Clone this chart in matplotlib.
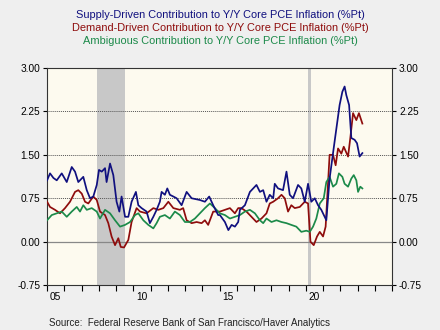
import matplotlib.pyplot as plt

# decimal years / %pt
supply_t = [2005.0, 2005.17, 2005.37, 2005.56, 2005.85, 2006.14, 2006.43, 2006.62, 2006.81, 2007.10,
            2007.30, 2007.49, 2007.68, 2007.88, 2008.01, 2008.17, 2008.36, 2008.45, 2008.65, 2008.84,
            2009.03, 2009.19, 2009.32, 2009.52, 2009.71, 2009.90, 2010.15, 2010.29, 2010.48, 2010.77,
            2010.96, 2011.16, 2011.35, 2011.54, 2011.64, 2011.83, 2011.97, 2012.12, 2012.32, 2012.51,
            2012.80, 2013.09, 2013.38, 2013.86, 2014.15, 2014.40, 2014.63, 2014.92,
            2015.02, 2015.31, 2015.51, 2015.70, 2015.89, 2016.08, 2016.18, 2016.47, 2016.76, 2016.95,
            2017.14, 2017.34, 2017.53, 2017.72, 2017.91, 2018.11, 2018.20, 2018.39, 2018.68, 2018.88,
            2019.07, 2019.26, 2019.55, 2019.74, 2019.94, 2020.13, 2020.32, 2020.52, 2020.71, 2020.90,
            2021.19, 2021.38, 2021.67, 2021.96, 2022.12, 2022.25, 2022.35, 2022.51, 2022.64, 2022.83,
            2022.97, 2023.12, 2023.28]
supply_v = [1.06, 1.18, 1.10, 1.06, 1.18, 1.03, 1.29, 1.21, 1.03, 1.12,
            0.89, 0.75, 0.78, 0.98, 1.24, 1.21, 1.27, 1.03, 1.35, 1.15,
            0.69, 0.52, 0.78, 0.43, 0.43, 0.69, 0.86, 0.63, 0.58, 0.52,
            0.32, 0.43, 0.55, 0.69, 0.86, 0.81, 0.92, 0.81, 0.78, 0.75,
            0.63, 0.86, 0.75, 0.72, 0.69, 0.78, 0.63, 0.46,
            0.46, 0.34, 0.20, 0.29, 0.26, 0.34, 0.55, 0.63, 0.86, 0.92,
            0.98, 0.86, 0.89, 0.69, 0.81, 0.75, 1.00, 0.92, 0.89, 1.21,
            0.81, 0.75, 0.98, 0.92, 0.69, 1.00, 0.69, 0.75, 0.63, 0.55,
            0.37, 1.09, 1.73, 2.36, 2.59, 2.68, 2.53, 2.36, 1.79, 1.76,
            1.70, 1.47, 1.53]

demand_t = [2005.0, 2005.17, 2005.46, 2005.75, 2006.04, 2006.33, 2006.62, 2006.81, 2007.01, 2007.20,
            2007.39, 2007.68, 2007.88, 2008.07, 2008.36, 2008.55, 2008.74, 2008.94, 2009.13, 2009.27,
            2009.46, 2009.71, 2009.90, 2010.19, 2010.39, 2010.77, 2011.16, 2011.45, 2011.74, 2012.03,
            2012.32, 2012.70, 2012.89, 2013.09, 2013.38, 2013.67, 2013.96, 2014.15, 2014.34, 2014.63,
            2014.92, 2015.02, 2015.31, 2015.60, 2015.89, 2016.08, 2016.27, 2016.56, 2016.85, 2017.14,
            2017.43, 2017.72, 2017.91, 2018.11, 2018.39, 2018.59, 2018.78, 2018.97, 2019.16, 2019.36,
            2019.65, 2019.94, 2020.13, 2020.27, 2020.46, 2020.65, 2020.81, 2021.00, 2021.15, 2021.38,
            2021.58, 2021.73, 2021.87, 2022.06, 2022.20, 2022.45, 2022.58, 2022.74, 2022.93, 2023.08,
            2023.28]
demand_v = [0.69, 0.60, 0.55, 0.49, 0.58, 0.69, 0.86, 0.89, 0.83, 0.69,
            0.66, 0.78, 0.72, 0.52, 0.46, 0.32, 0.09, -0.06, 0.06, -0.09,
            -0.10, 0.03, 0.34, 0.58, 0.52, 0.49, 0.58, 0.55, 0.58, 0.69,
            0.58, 0.55, 0.58, 0.37, 0.32, 0.34, 0.32, 0.37, 0.29, 0.52,
            0.52, 0.52, 0.55, 0.58, 0.49, 0.58, 0.58, 0.52, 0.43, 0.34,
            0.40, 0.49, 0.66, 0.69, 0.75, 0.81, 0.75, 0.52, 0.63, 0.58,
            0.60, 0.69, 0.66, 0.00, -0.06, 0.09, 0.17, 0.09, 0.26, 1.50,
            1.50, 1.32, 1.61, 1.52, 1.64, 1.47, 1.79, 2.22, 2.10, 2.22,
            2.04]

ambig_t = [2005.0, 2005.27, 2005.56, 2005.85, 2006.14, 2006.43, 2006.72, 2006.91, 2007.10, 2007.30,
           2007.59, 2007.88, 2008.07, 2008.36, 2008.65, 2008.94, 2009.23, 2009.52, 2009.81, 2010.10,
           2010.29, 2010.58, 2010.87, 2011.16, 2011.35, 2011.54, 2011.83, 2012.12, 2012.41, 2012.70,
           2012.99, 2013.28, 2013.57, 2013.86, 2014.15, 2014.44, 2014.73, 2014.92,
           2015.02, 2015.31, 2015.60, 2015.89, 2016.18, 2016.47, 2016.76, 2017.05, 2017.34, 2017.53,
           2017.72, 2018.01, 2018.30, 2018.59, 2018.88, 2019.16, 2019.45, 2019.74, 2020.03, 2020.23,
           2020.42, 2020.61, 2020.81, 2021.04, 2021.19, 2021.38, 2021.58, 2021.77, 2021.92, 2022.12,
           2022.25, 2022.45, 2022.64, 2022.78, 2022.93, 2023.03, 2023.16, 2023.28]
ambig_v = [0.37, 0.46, 0.49, 0.52, 0.43, 0.52, 0.60, 0.52, 0.63, 0.55,
           0.58, 0.52, 0.40, 0.55, 0.49, 0.37, 0.26, 0.29, 0.34, 0.46,
           0.49, 0.37, 0.29, 0.23, 0.32, 0.43, 0.46, 0.40, 0.52, 0.46,
           0.34, 0.34, 0.40, 0.49, 0.58, 0.66, 0.58, 0.52,
           0.49, 0.46, 0.40, 0.43, 0.46, 0.52, 0.55, 0.49, 0.37, 0.32,
           0.40, 0.34, 0.37, 0.34, 0.32, 0.29, 0.26, 0.17, 0.19, 0.17,
           0.26, 0.40, 0.66, 0.75, 1.03, 1.12, 0.95, 1.00, 1.18, 1.12,
           1.00, 0.95, 1.09, 1.15, 1.06, 0.86, 0.95, 0.92]

recessions = [(2007.92, 2009.5), (2020.1, 2020.3)]
year_labels = ['05', '10', '15', '20']
y_ticks = [-0.75, 0.0, 0.75, 1.5, 2.25, 3.0]

blue = '#10107f'
red = '#8e0c0c'
green = '#1c8a4a'

fig = plt.figure(figsize=(4.4, 3.3), dpi=100, facecolor='#efefef')
ax = fig.add_axes([0.107, 0.136, 0.784, 0.658])
ax.set_facecolor('#fdfaef')

for a, b in recessions:
    ax.axvspan(a, b, color='#c8c8c8', lw=0, zorder=0)

for y in [0.75, 1.5, 2.25]:
    ax.axhline(y, color='#555555', lw=0.7, ls=(0, (1, 1)), zorder=1)
ax.axhline(0, color='#888888', lw=0.9, zorder=1)

ax.plot(demand_t, demand_v, color=red, lw=1.25, zorder=3)
ax.plot(ambig_t, ambig_v, color=green, lw=1.25, zorder=3)
ax.plot(supply_t, supply_v, color=blue, lw=1.25, zorder=4)

ax.set_xlim(2005, 2025)
ax.set_ylim(-0.75, 3.0)
ax.set_yticks(y_ticks)
ax.set_yticklabels([f'{v:.2f}' for v in y_ticks])
ax.tick_params(axis='y', which='both', left=True, right=True, labelleft=True,
               labelright=True, direction='out', length=3, labelsize=7.3, pad=2)

ax.set_xticks(range(2005, 2026))
ax.set_xticklabels([])
ax.set_xticks([2005.5, 2010.5, 2015.5, 2020.5], minor=True)
ax.set_xticklabels(year_labels, minor=True)
ax.tick_params(axis='x', which='major', direction='out', length=4)
ax.tick_params(axis='x', which='minor', length=0, labelsize=7.3, pad=5)

for s in ax.spines.values():
    s.set_color('#333333')
    s.set_linewidth(0.8)

fs = 7.9
fam = 'Liberation Sans'
fig.text(0.5, 1 - 15 / 330, 'Supply-Driven Contribution to Y/Y Core PCE Inflation (%Pt)',
         ha='center', va='center', color=blue, fontsize=fs, family=fam)
fig.text(0.5, 1 - 28 / 330, 'Demand-Driven Contribution to Y/Y Core PCE Inflation (%Pt)',
         ha='center', va='center', color=red, fontsize=fs, family=fam)
fig.text(0.5, 1 - 41 / 330, 'Ambiguous Contribution to Y/Y Core PCE Inflation (%Pt)',
         ha='center', va='center', color=green, fontsize=fs, family=fam)
fig.text(49 / 440, 1 - 323 / 330, 'Source:  Federal Reserve Bank of San Francisco/Haver Analytics',
         ha='left', va='center', color='#222222', fontsize=7, family=fam)

for lbl in ax.get_yticklabels() + ax.get_xticklabels(minor=True):
    lbl.set_family(fam)

fig.savefig('out.png', dpi=100, facecolor=fig.get_facecolor())
